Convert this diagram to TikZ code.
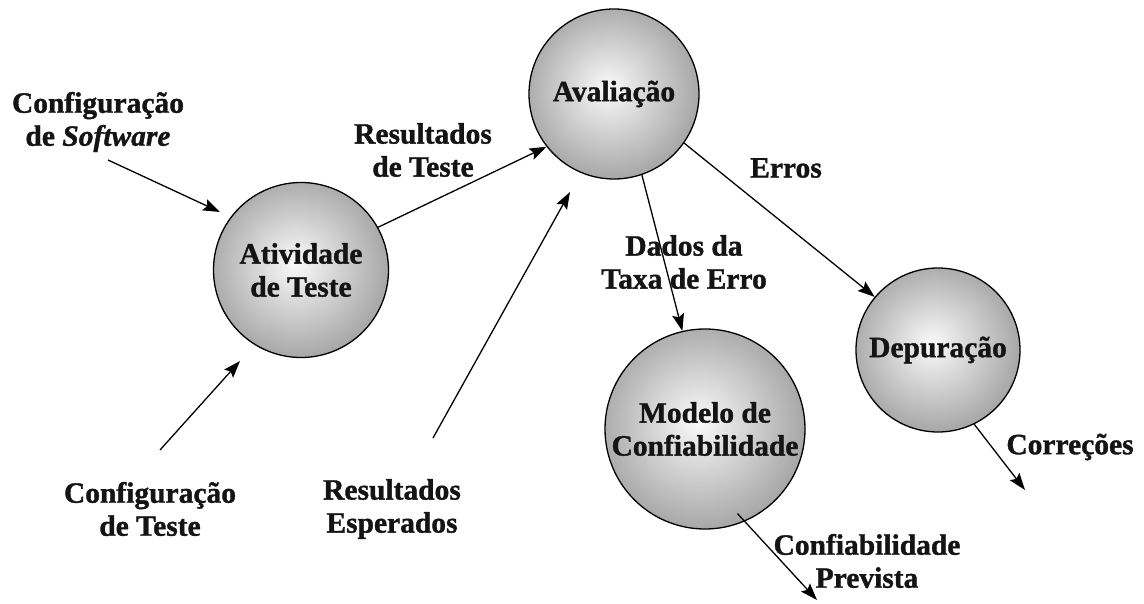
\documentclass[tikz,border=0pt]{standalone}
\usepackage{fontspec}
\setmainfont{Liberation Serif}[BoldFeatures={FakeBold=1.2},BoldItalicFeatures={FakeBold=1.2}]
\usetikzlibrary{arrows.meta,calc}
\pgfdeclareradialshading{ballshade}{\pgfpoint{-2bp}{2bp}}{color(0bp)=(black!2); color(36bp)=(black!47); color(50bp)=(black!47)}
\newcommand\dfont{\fontsize{29.5}{33}\selectfont\bfseries}
\begin{document}
\begin{tikzpicture}[x=1pt,y=-1pt,
  ball/.style={circle,draw=black,line width=1.3pt,shading=ballshade,inner sep=0pt,align=center,font=\dfont,text=black!92},
  lbl/.style={align=center,font=\dfont,inner sep=0pt,text=black!92},
  arr/.style={line width=1.3pt,draw=black,-{Stealth[length=17pt,width=12pt,inset=3pt]}},
]
\useasboundingbox (0,0) rectangle (1144,604);
% circles
\node[ball,minimum size=175pt] (A) at (301,270) {Atividade\\de Teste};
\node[ball,minimum size=170pt] (Av) at (614,94) {Avaliação};
\node[ball,minimum size=200pt] (M) at (705,429) {Modelo de\\Confiabilidade};
\node[ball,minimum size=164pt] (D) at (938,350) {Depuração};
% labels
\node[lbl] (cs) at (98,122) {Configuração\\de \textit{Software}};
\node[lbl] (rt) at (423,150) {Resultados\\de Teste};
\node[lbl] (er) at (786,168) {Erros};
\node[lbl] (dt) at (684,262) {Dados da\\Taxa de Erro};
\node[lbl] (ct) at (150,509) {Configuração\\de Teste};
\node[lbl] (re) at (392,509) {Resultados\\Esperados};
\node[lbl] (co) at (1070,447) {Correções};
\node[lbl] (cp) at (867,561) {Confiabilidade\\Prevista};
% free ends
\coordinate (cs1) at (108,160);
\coordinate (cs2) at (220,212);
\coordinate (ct1) at (160,450);
\coordinate (ct2) at (240,361);
\coordinate (re1) at (433,438);
\coordinate (re2) at (570,192);
\coordinate (co2) at (1025,490);
\coordinate (cp1) at ($(M.center)!0.9!(M.-69)$);
\coordinate (cp2) at (817,600);
% connectors
\draw[arr] (cs1) -- (cs2);
\draw[arr] (ct1) -- (ct2);
\draw[arr] (A.29) -- (Av.218);
\draw[arr] (re1) -- (re2);
\draw[arr] (Av.-71) -- (M.103);
\draw[arr] (Av.-35) -- (D.140);
\draw[arr] (D.-64) -- (co2);
\draw[arr] (cp1) -- (cp2);
\end{tikzpicture}
\end{document}
